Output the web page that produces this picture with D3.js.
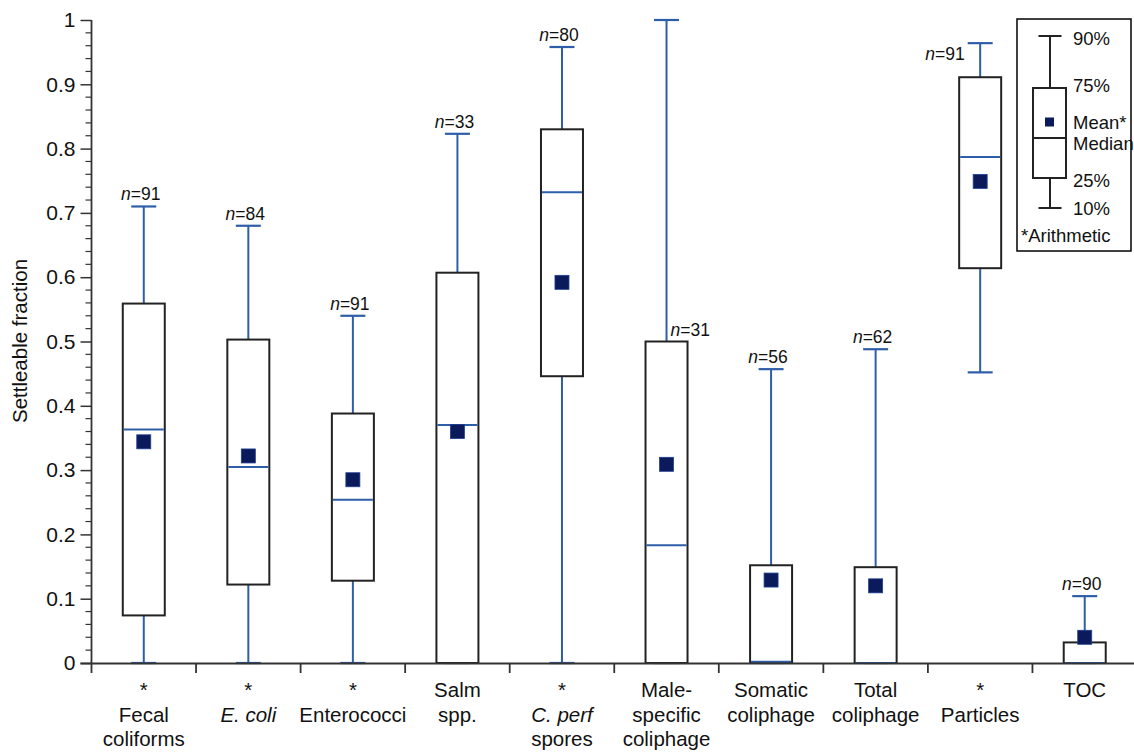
<!DOCTYPE html>
<html>
<head>
<meta charset="utf-8">
<script src="https://cdn.jsdelivr.net/npm/d3@7"></script>
<style>
  html, body { margin: 0; padding: 0; background: #fff; }
  svg { display: block; font-family: "Liberation Sans", Arial, Helvetica, sans-serif; }
</style>
</head>
<body>
<svg id="chart" width="1134" height="752"></svg>
<script>
// Settleable fraction by indicator: box = 25th-75th percentile, whiskers = 10th-90th,
// blue line = median, navy square = arithmetic mean.
const categories = ["Fecal coliforms", "E. coli", "Enterococci", "Salm spp.", "C. perf spores",
  "Male-specific coliphage", "Somatic coliphage", "Total coliphage", "Particles", "TOC"];
const p10    = [0, 0, 0, 0, 0, 0, 0, 0, 0.452, 0];
const p25    = [0.074, 0.122, 0.128, 0, 0.446, 0, 0, 0, 0.614, 0];
const median = [0.363, 0.305, 0.254, 0.370, 0.732, 0.183, 0.002, 0, 0.787, 0];
const p75    = [0.559, 0.503, 0.388, 0.607, 0.830, 0.500, 0.152, 0.149, 0.911, 0.032];
const p90    = [0.710, 0.680, 0.540, 0.823, 0.958, 1.0, 0.457, 0.488, 0.964, 0.104];
const means  = [0.344, 0.322, 0.285, 0.360, 0.592, 0.309, 0.129, 0.120, 0.749, 0.040];
const nCounts = [91, 84, 91, 33, 80, 31, 56, 62, 91, 90];
// Axis label lines per category ("*" marks arithmetic-mean groups)
const xLabelLines = [["*", "Fecal", "coliforms"], ["*", "E. coli"], ["*", "Enterococci"],
  ["Salm", "spp."], ["*", "C. perf", "spores"], ["Male-", "specific", "coliphage"],
  ["Somatic", "coliphage"], ["Total", "coliphage"], ["*", "Particles"], ["TOC"]];
const italicLines = ["E. coli", "C. perf"];
const yTicks = [0, 0.1, 0.2, 0.3, 0.4, 0.5, 0.6, 0.7, 0.8, 0.9, 1];
const legendLabels = ["90%", "75%", "Mean*", "Median", "25%", "10%", "*Arithmetic"];

const table = categories.map((c, i) => ({
  cat: c, lo: p10[i], q1: p25[i], med: median[i], q3: p75[i], hi: p90[i],
  mean: means[i], n: nCounts[i], lines: xLabelLines[i]
}));

const BLUE = "#2f5ea8", NAVY = "#0a1a5a", INK = "#222";
const svg = d3.select("#chart");

const x = d3.scaleBand().domain(categories).range([91.5, 1137]).paddingInner(0).paddingOuter(0);
const y = d3.scaleLinear().domain([0, 1]).range([663, 20]);
const cx = d => x(d.cat) + x.bandwidth() / 2;
const boxW = 42, capW = 25, meanS = 14;

// n= label placement (most sit above the upper cap)
const nPlacement = { "Male-specific coliphage": "right", "Particles": "left" };

const g = svg.append("g");

// whiskers
const wh = g.selectAll("g.item").data(table).join("g").attr("class", "item");
wh.append("line").attr("x1", cx).attr("x2", cx)
  .attr("y1", d => y(d.q3)).attr("y2", d => y(d.hi))
  .attr("stroke", BLUE).attr("stroke-width", 2);
wh.append("line").attr("x1", cx).attr("x2", cx)
  .attr("y1", d => y(d.q1)).attr("y2", d => y(d.lo))
  .attr("stroke", BLUE).attr("stroke-width", 2);
wh.append("line").attr("x1", d => cx(d) - capW / 2).attr("x2", d => cx(d) + capW / 2)
  .attr("y1", d => y(d.hi)).attr("y2", d => y(d.hi))
  .attr("stroke", BLUE).attr("stroke-width", 2.2);
wh.append("line").attr("x1", d => cx(d) - capW / 2).attr("x2", d => cx(d) + capW / 2)
  .attr("y1", d => y(d.lo)).attr("y2", d => y(d.lo))
  .attr("stroke", BLUE).attr("stroke-width", 2.2);

// boxes
wh.append("rect")
  .attr("x", d => cx(d) - boxW / 2).attr("width", boxW)
  .attr("y", d => y(d.q3)).attr("height", d => y(d.q1) - y(d.q3))
  .attr("fill", "#fff").attr("stroke", INK).attr("stroke-width", 2);
// medians
wh.append("line")
  .attr("x1", d => cx(d) - boxW / 2 + 1).attr("x2", d => cx(d) + boxW / 2 - 1)
  .attr("y1", d => y(d.med)).attr("y2", d => y(d.med))
  .attr("stroke", BLUE).attr("stroke-width", 2);
// means
wh.append("rect")
  .attr("x", d => cx(d) - meanS / 2).attr("y", d => y(d.mean) - meanS / 2)
  .attr("width", meanS).attr("height", meanS)
  .attr("fill", NAVY).attr("stroke", "#1f3f8f").attr("stroke-width", 0.8);

// n labels
const nl = wh.append("text")
  .attr("font-size", 17.5).attr("fill", "#111")
  .attr("x", d => {
    const p = nPlacement[d.cat];
    if (p === "right") return cx(d) + 4;
    if (p === "left") return cx(d) - capW / 2 - 3;
    return cx(d) - 3;
  })
  .attr("y", d => {
    const p = nPlacement[d.cat];
    if (p === "right") return y(d.q3) - 6;
    if (p === "left") return y(d.hi) + 17;
    return y(d.hi) - 6;
  })
  .attr("text-anchor", d => {
    const p = nPlacement[d.cat];
    return p === "right" ? "start" : p === "left" ? "end" : "middle";
  });
nl.append("tspan").attr("font-style", "italic").text("n");
nl.append("tspan").text(d => "=" + d.n);

// y axis
const yAxis = svg.append("g").attr("transform", "translate(91.5,0)")
  .call(d3.axisLeft(y).tickValues(yTicks).tickSize(11).tickPadding(5)
    .tickFormat(d => d === 0 || d === 1 ? String(d) : d3.format(".1f")(d)));
yAxis.select(".domain").remove();
yAxis.selectAll(".tick line").attr("stroke", "#333").attr("stroke-width", 1.5);
yAxis.selectAll(".tick text").attr("font-size", 21).attr("fill", "#111")
  .attr("font-family", "\"Liberation Sans\", Arial, sans-serif");
// minor ticks every 0.02
const minor = d3.range(0, 1.0001, 0.02).filter(v => Math.abs(v * 10 - Math.round(v * 10)) > 1e-6);
svg.append("g").selectAll("line").data(minor).join("line")
  .attr("x1", 85.5).attr("x2", 91.5).attr("y1", d => y(d)).attr("y2", d => y(d))
  .attr("stroke", "#333").attr("stroke-width", 1.2);
svg.append("line").attr("x1", 91.5).attr("x2", 91.5).attr("y1", y(1)).attr("y2", 673)
  .attr("stroke", "#333").attr("stroke-width", 1.8);

// x axis line and category boundary ticks
svg.append("line").attr("x1", 80.5).attr("x2", 1134).attr("y1", 663.5).attr("y2", 663.5)
  .attr("stroke", "#333").attr("stroke-width", 1.8);
svg.append("g").selectAll("line").data(categories.slice(1)).join("line")
  .attr("x1", d => x(d)).attr("x2", d => x(d)).attr("y1", 663.5).attr("y2", 673)
  .attr("stroke", "#333").attr("stroke-width", 1.8);

// category labels
const xl = svg.append("g").selectAll("text").data(table).join("text")
  .attr("text-anchor", "middle").attr("font-size", 20.5).attr("fill", "#111");
xl.each(function (d) {
  const t = d3.select(this);
  d.lines.forEach((line, k) => {
    t.append("tspan").attr("x", cx(d)).attr("y", 697 + k * 24.5)
      .attr("font-style", italicLines.includes(line) ? "italic" : "normal")
      .text(line);
  });
});

// y title
svg.append("text").attr("transform", "translate(27,341) rotate(-90)")
  .attr("text-anchor", "middle").attr("font-size", 20.5).attr("fill", "#111")
  .text("Settleable fraction");

// legend key
const lg = svg.append("g");
lg.append("rect").attr("x", 1017).attr("y", 19).attr("width", 114).attr("height", 232)
  .attr("fill", "#fff").attr("stroke", "#111").attr("stroke-width", 1.6);
const lx = 1050;
const legY = { p90: 36, p75: 88, mean: 122, med: 138, p25: 178, p10: 208 };
lg.append("line").attr("x1", lx).attr("x2", lx).attr("y1", legY.p90).attr("y2", legY.p10)
  .attr("stroke", "#222").attr("stroke-width", 2);
[legY.p90, legY.p10].forEach(v => lg.append("line")
  .attr("x1", lx - 11.5).attr("x2", lx + 11.5).attr("y1", v).attr("y2", v)
  .attr("stroke", "#222").attr("stroke-width", 2));
lg.append("rect").attr("x", lx - 17).attr("y", legY.p75).attr("width", 33)
  .attr("height", legY.p25 - legY.p75).attr("fill", "#fff").attr("stroke", "#222").attr("stroke-width", 2);
lg.append("line").attr("x1", lx - 17).attr("x2", lx + 16).attr("y1", legY.med).attr("y2", legY.med)
  .attr("stroke", "#222").attr("stroke-width", 2);
lg.append("rect").attr("x", lx - 5).attr("y", legY.mean - 4.5).attr("width", 9).attr("height", 9)
  .attr("fill", NAVY);
const legTextY = [45, 92, 129, 150, 187, 215];
legendLabels.slice(0, 6).forEach((t, i) => lg.append("text")
  .attr("x", 1073).attr("y", legTextY[i]).attr("font-size", 18.5).attr("fill", "#111").text(t));
lg.append("text").attr("x", 1021).attr("y", 242).attr("font-size", 18.5).attr("fill", "#111")
  .text(legendLabels[6]);
</script>
</body>
</html>
